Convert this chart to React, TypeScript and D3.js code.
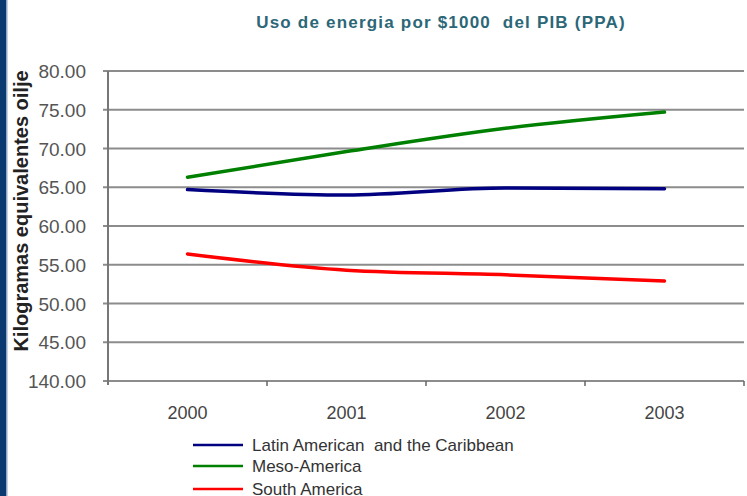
import React from 'react';
import * as d3 from 'd3';

const years = ['2000', '2001', '2002', '2003'];
const latinAmerica = [64.7, 64.0, 64.9, 64.8];
const mesoAmerica = [66.3, 69.6, 72.6, 74.7];
const southAmerica = [56.4, 54.3, 53.7, 52.9];
const yTicks = [40, 45, 50, 55, 60, 65, 70, 75, 80];
const yTickLabels = ['140.00', '45.00', '50.00', '55.00', '60.00', '65.00', '70.00', '75.00', '80.00'];

const seriesNames = ['Latin American  and the Caribbean', 'Meso-America', 'South America'];
const seriesColors = ['#000080', '#008000', '#ff0000'];

const W = 747;
const H = 496;

export default function App() {
  const x = d3.scaleBand<string>().domain(years).range([108, 744]);
  const y = d3.scaleLinear().domain([40, 80]).range([381, 71]);

  const line = d3.line<number>()
    .x((_, i) => (x(years[i]) as number) + x.bandwidth() / 2)
    .y(d => y(d))
    .curve(d3.curveMonotoneX);

  const series = [latinAmerica, mesoAmerica, southAmerica];
  const legendY = [445, 466, 489];

  return (
    <div style={{ position: 'fixed', left: 0, top: 0 }}>
      <svg width={W} height={H} style={{ display: 'block', background: '#fff' }} fontFamily="Arial, 'Liberation Sans', sans-serif">
        {/* slide edge */}
        <rect x={0} y={0} width={6} height={H} fill="#0b3a70" />
        <rect x={6} y={0} width={1.5} height={H} fill="#8fa8c8" />

        <text x={441} y={28} textAnchor="middle" fill="#2c6778" fontSize={17} fontWeight="bold" letterSpacing={1.2} style={{ whiteSpace: 'pre' }}>
          Uso de energia por $1000  del PIB (PPA)
        </text>

        {/* gridlines + y ticks */}
        {yTicks.map((t, i) => (
          <g key={t}>
            <line x1={103} x2={744} y1={y(t)} y2={y(t)} stroke="#8c8c8c" strokeWidth={2} />
            <text x={86} y={y(t) + 7} textAnchor="end" fontSize={19} fill="#555">
              {yTickLabels[i]}
            </text>
          </g>
        ))}

        {/* y axis line */}
        <line x1={108} x2={108} y1={71} y2={385} stroke="#777" strokeWidth={2} />

        {/* x axis ticks */}
        {years.map(yr => (
          <line key={yr} x1={(x(yr) as number) + x.bandwidth()} x2={(x(yr) as number) + x.bandwidth()}
            y1={381} y2={386} stroke="#666" strokeWidth={1.5} />
        ))}
        {years.map(yr => (
          <text key={yr} x={(x(yr) as number) + x.bandwidth() / 2} y={419} textAnchor="middle" fontSize={18} fill="#444">
            {yr}
          </text>
        ))}

        {/* y axis title */}
        <text transform="translate(28,211) rotate(-90)" textAnchor="middle" fontSize={20} fontWeight="bold" fill="#222">
          Kilogramas equivalentes oilje
        </text>

        {/* series */}
        {series.map((s, i) => (
          <path key={i} d={line(s) ?? ''} fill="none" stroke={seriesColors[i]} strokeWidth={3.5} strokeLinecap="round" />
        ))}

        {/* legend */}
        {seriesNames.map((n, i) => (
          <g key={n}>
            <line x1={193} x2={243} y1={legendY[i]} y2={legendY[i]} stroke={seriesColors[i]} strokeWidth={2.5} />
            <text x={252} y={legendY[i] + 6} fontSize={17} fill="#333" style={{ whiteSpace: 'pre' }}>
              {n}
            </text>
          </g>
        ))}
      </svg>
    </div>
  );
}
